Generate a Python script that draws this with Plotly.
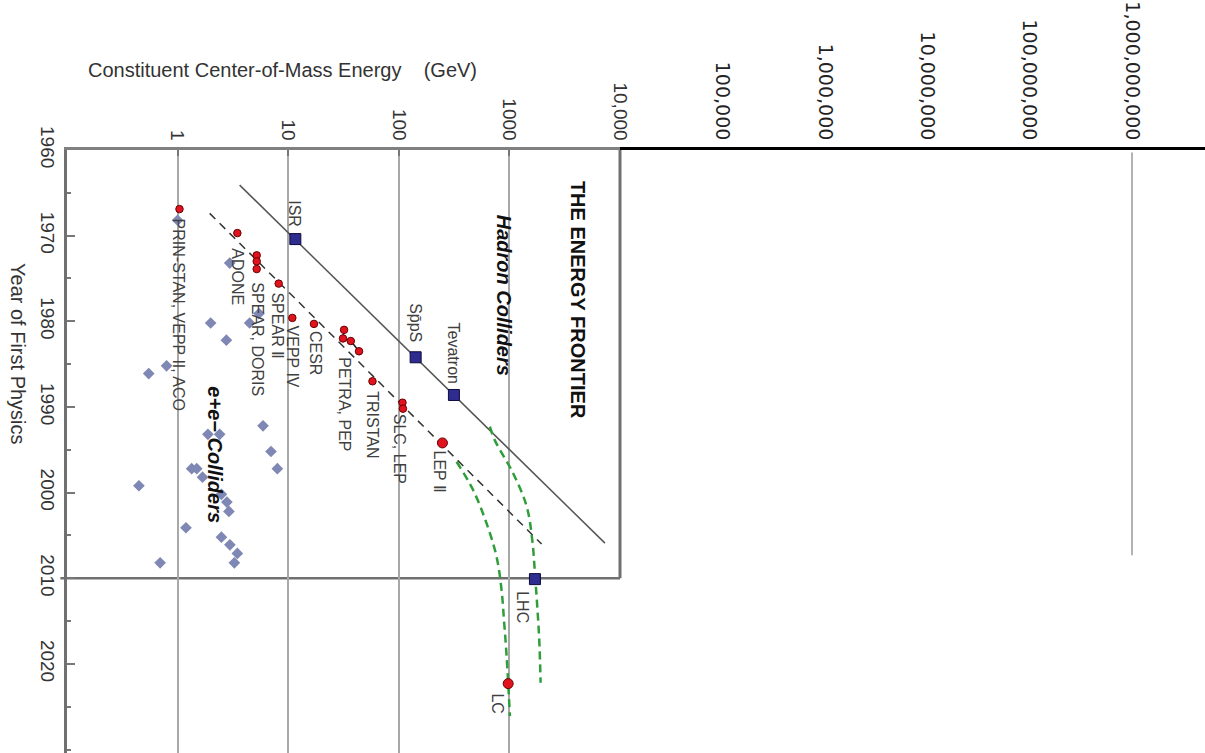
import math
import plotly.graph_objects as go

# ---------------------------------------------------------------- data
# e+e- colliders: constituent centre-of-mass energy (GeV) and year of first physics
ee_group = ["PRIN-STAN, VEPP II, ACO", "ADONE",
            "SPEAR, DORIS", "SPEAR, DORIS", "SPEAR, DORIS",
            "SPEAR Ⅱ", "VEPP IV", "CESR",
            "PETRA, PEP", "PETRA, PEP", "PETRA, PEP", "PETRA, PEP",
            "TRISTAN", "SLC, LEP", "SLC, LEP"]
ee_energy = [1.04, 3.47, 5.19, 5.19, 5.19, 8.2, 10.9, 17.1,
             32.0, 31.3, 36.8, 43.7, 57.8, 108, 109]
ee_year = [1966.9, 1969.7, 1972.3, 1973.0, 1973.9, 1975.6, 1979.6, 1980.3,
           1981.0, 1982.0, 1982.3, 1983.5, 1987.0, 1989.5, 1990.2]

# flagship lepton machines
big_names = ["LEP Ⅱ", "LC"]
big_energy = [248, 975]
big_year = [1994.2, 2022.3]

# hadron colliders
had_names = ["ISR", "Sp\u0304pS", "Tevatron", "LHC"]
had_energy = [11.6, 142, 315, 1702]
had_year = [1970.4, 1984.2, 1988.6, 2010.1]

# other e+e- facilities
oth_energy = [1.0, 2.96, 5.44, 1.99, 4.48, 2.76, 0.795, 0.548,
              5.92, 1.88, 2.40, 6.99, 7.98, 1.34, 1.49, 1.68, 0.447,
              2.49, 2.79, 2.91, 1.19, 2.49, 2.97, 3.47, 3.26, 0.695]
oth_year = [1968.2, 1973.2, 1979.1, 1980.2, 1980.2, 1982.2, 1985.2, 1986.1,
            1992.2, 1993.2, 1993.2, 1995.2, 1997.2, 1997.2, 1997.2, 1998.2, 1999.2,
            2000.2, 2001.1, 2002.2, 2004.1, 2005.2, 2006.1, 2007.1, 2008.2, 2008.2]

# frontier trend lines
had_trend_energy = [3.64, 7310]
had_trend_year = [1964.1, 2005.9]
ee_trend_energy = [1.95, 1955]
ee_trend_year = [1967.4, 2006.0]

# projected paths beyond the trend
had_proj_energy = [666, 739, 1076, 1432, 1608, 1702, 1786, 1862, 1915]
had_proj_year = [1992.3, 1993.9, 1997.7, 2001.6, 2005.5, 2009.4, 2013.3, 2017.2, 2022.2]
ee_proj_energy = [333, 470, 622, 766, 850, 897, 944, 1011]
ee_proj_year = [1996.4, 1999.7, 2003.6, 2007.5, 2011.4, 2015.2, 2019.1, 2026.1]

# axis ticks
energy_ticks = [1, 10, 100, 1000, 10000]
energy_tick_text = ["1", "10", "100", "1000", "10,000"]
far_energy_ticks = [1e5, 1e6, 1e7, 1e8, 1e9]
far_energy_tick_text = ["100,000", "1,000,000", "10,000,000", "100,000,000", "1,000,000,000"]
year_ticks = [1960, 1970, 1980, 1990, 2000, 2010, 2020]
rule_energy = [1e9, 1e9]
rule_year = [1960.3, 2007.3]
frame_year = [1960, 2010]

# ---------------------------------------------------------------- style
W, H = 1205, 753
SANS = "Liberation Sans, Arial, Helvetica, sans-serif"
RED, RED_EDGE = "#e0141e", "#6a0000"
NAVY, NAVY_EDGE = "#2e2c8e", "#0d0b3d"
SLATE = "#7f88b4"
GREEN = "#2f9e3a"

# label placement relative to its anchor marker: (dx px, gap px, below?)
label_place = {
    "PRIN-STAN, VEPP II, ACO": (-1, 9, True),
    "ADONE": (0, 14, True),
    "SPEAR, DORIS": (1, 12, True),
    "SPEAR Ⅱ": (-1, 8, True),
    "VEPP IV": (0, 7, True),
    "CESR": (1, 6, True),
    "PETRA, PEP": (1, 5, True),
    "TRISTAN": (0, 9, True),
    "SLC, LEP": (-4, 4, True),
    "LEP Ⅱ": (-3, 7, True),
    "LC": (-11, 9, True),
    "LHC": (-12, 11, True),
    "ISR": (-1, 11, False),
    "Sp\u0304pS": (0, 14, False),
    "Tevatron": (0, 10, False),
}

fig = go.Figure()

# trend lines
fig.add_trace(go.Scatter(x=had_trend_energy, y=had_trend_year, mode="lines",
                         line=dict(color="#555555", width=1.5), hoverinfo="skip"))
fig.add_trace(go.Scatter(x=ee_trend_energy, y=ee_trend_year, mode="lines",
                         line=dict(color="#333333", width=1.5, dash="8px,6px"), hoverinfo="skip"))
fig.add_trace(go.Scatter(x=had_proj_energy, y=had_proj_year, mode="lines",
                         line=dict(color=GREEN, width=2.5, dash="8px,5px", shape="spline"),
                         hoverinfo="skip"))
fig.add_trace(go.Scatter(x=ee_proj_energy, y=ee_proj_year, mode="lines",
                         line=dict(color=GREEN, width=2.5, dash="8px,5px", shape="spline"),
                         hoverinfo="skip"))

# other facilities
fig.add_trace(go.Scatter(x=oth_energy, y=oth_year, mode="markers",
                         marker=dict(symbol="diamond", size=9, color=SLATE,
                                     line=dict(width=0))))

# e+e- colliders, grouped so that multi-point machines are joined
groups = []
for g in ee_group:
    if g not in groups:
        groups.append(g)
for g in groups:
    idx = [i for i, n in enumerate(ee_group) if n == g]
    xs = [ee_energy[i] for i in idx]
    ys = [ee_year[i] for i in idx]
    fig.add_trace(go.Scatter(x=xs, y=ys, mode="lines+markers" if len(idx) > 1 else "markers",
                             line=dict(color="#222222", width=1.5),
                             marker=dict(symbol="circle", size=7.5, color=RED,
                                         line=dict(color=RED_EDGE, width=1))))
    # the label sits under the group's last marker (PETRA/PEP: aligned with its first one)
    anchor_x = ee_energy[idx[0]] if g == "PETRA, PEP" else ee_energy[idx[-1]]
    dx, gap, below = label_place[g]
    fig.add_annotation(x=math.log10(anchor_x), y=ee_year[idx[-1]], xref="x", yref="y",
                       text=g, showarrow=False, textangle=90, borderpad=0,
                       xanchor="center", yanchor="top" if below else "bottom",
                       xshift=dx, yshift=-gap if below else gap,
                       font=dict(family=SANS, size=16, color="#404040"))

fig.add_trace(go.Scatter(x=big_energy, y=big_year, mode="markers",
                         marker=dict(symbol="circle", size=10, color=RED,
                                     line=dict(color=RED_EDGE, width=1))))

fig.add_trace(go.Scatter(x=had_energy, y=had_year, mode="markers",
                         marker=dict(symbol="square", size=11, color=NAVY,
                                     line=dict(color=NAVY_EDGE, width=1))))

for names, es, ys in ((big_names, big_energy, big_year), (had_names, had_energy, had_year)):
    for n, e, y in zip(names, es, ys):
        dx, gap, below = label_place[n]
        fig.add_annotation(x=math.log10(e), y=y, xref="x", yref="y", text=n,
                           showarrow=False, textangle=90, borderpad=0,
                           xanchor="center", yanchor="top" if below else "bottom",
                           xshift=dx, yshift=-gap if below else gap,
                           font=dict(family=SANS, size=16, color="#404040"))

# vertical rule on the extended energy scale
fig.add_trace(go.Scatter(x=rule_energy, y=rule_year, xaxis="x2", yaxis="y", mode="lines",
                         line=dict(color="#9a9a9a", width=1.5), hoverinfo="skip"))

# panel titles
fig.add_annotation(x=math.log10(4170), y=1977.5, xref="x", yref="y",
                   text="<b>THE ENERGY FRONTIER</b>", showarrow=False, textangle=90,
                   font=dict(family=SANS, size=20, color="#111111"))
fig.add_annotation(x=math.log10(910), y=1977.0, xref="x", yref="y",
                   text="<b><i>Hadron Colliders</i></b>", showarrow=False, textangle=90,
                   font=dict(family=SANS, size=20, color="#111111"))
fig.add_annotation(x=math.log10(2.16), y=1995.6, xref="x", yref="y",
                   text="<b><i>e+e\u2212 Colliders</i></b>", showarrow=False, textangle=90,
                   font=dict(family=SANS, size=20, color="#111111"))

# axis titles
fig.add_annotation(x=86 / W, y=1 + (150 - 70) / (H - 150), xref="paper", yref="paper",
                   xanchor="left", yanchor="middle", showarrow=False,
                   text="Constituent Center-of-Mass Energy\u00a0\u00a0\u00a0\u00a0(GeV)",
                   font=dict(family=SANS, size=20, color="#333333"))
fig.add_annotation(x=18 / W, y=(H - 354) / (H - 150), xref="paper", yref="paper",
                   xanchor="center", yanchor="middle", showarrow=False, textangle=90,
                   text="Year of First Physics",
                   font=dict(family=SANS, size=20, color="#333333"))

# frame of the historical period: bottom edge and right edge
fig.add_shape(type="line", xref="x domain", x0=-0.012, x1=1, yref="y",
              y0=frame_year[1], y1=frame_year[1],
              line=dict(color="#707070", width=2.5), layer="below")
fig.add_shape(type="line", xref="x domain", x0=1, x1=1, yref="y",
              y0=frame_year[0], y1=frame_year[1],
              line=dict(color="#707070", width=3), layer="below")

x_left, x_split = 67 / W, 620 / W
fig.update_layout(
    width=W, height=H,
    margin=dict(l=0, r=0, t=150, b=0, autoexpand=False),
    paper_bgcolor="white", plot_bgcolor="white",
    showlegend=False,
    xaxis=dict(type="log", range=[-1, 4], domain=[x_left, x_split], side="top",
               anchor="y", tickvals=energy_ticks, ticktext=energy_tick_text,
               tickangle=90, ticks="inside", ticklen=6, tickwidth=1.5, tickcolor="#777777",
               tickfont=dict(family=SANS, size=19, color="#333333"),
               showgrid=True, gridcolor="#a8a8a8", gridwidth=1.5,
               showline=True, linecolor="#808080", linewidth=2.5,
               zeroline=False, fixedrange=True, automargin=False),
    xaxis2=dict(type="log", range=[4, 9.713], domain=[x_split, 1], side="top",
                anchor="y", tickvals=far_energy_ticks, ticktext=far_energy_tick_text,
                tickangle=90, ticks="", ticklabelstandoff=0,
                tickfont=dict(family="DejaVu Sans", size=19, color="#222222"),
                showgrid=False, showline=True, linecolor="#000000", linewidth=3,
                zeroline=False, fixedrange=True, automargin=False),
    yaxis=dict(range=[2030.4, 1960], domain=[0, 1], anchor="x",
               tickvals=year_ticks, ticktext=[str(v) for v in year_ticks],
               tickangle=90, ticks="inside", ticklen=8, tickwidth=1.5, tickcolor="#777777",
               minor=dict(tickmode="array", tickvals=[1965, 1975, 1985, 1995, 2005, 2015, 2025, 2030],
                          ticks="inside", ticklen=4, tickcolor="#777777", showgrid=False),
               tickfont=dict(family=SANS, size=19, color="#333333"),
               showgrid=False, showline=True, linecolor="#707070", linewidth=3,
               zeroline=False, fixedrange=True, automargin=False),
    yaxis2=dict(range=[2030.4, 1960], overlaying="y", side="right", anchor="x",
                tickvals=[1970, 1980, 1990, 2000], showticklabels=False,
                ticks="inside", ticklen=8, tickwidth=1.5, tickcolor="#777777",
                minor=dict(tickmode="array", tickvals=[1965, 1975, 1985, 1995, 2005],
                           ticks="inside", ticklen=4, tickcolor="#777777", showgrid=False),
                showgrid=False, showline=False, zeroline=False, fixedrange=True,
                automargin=False),
)

fig.write_html("out.html")
